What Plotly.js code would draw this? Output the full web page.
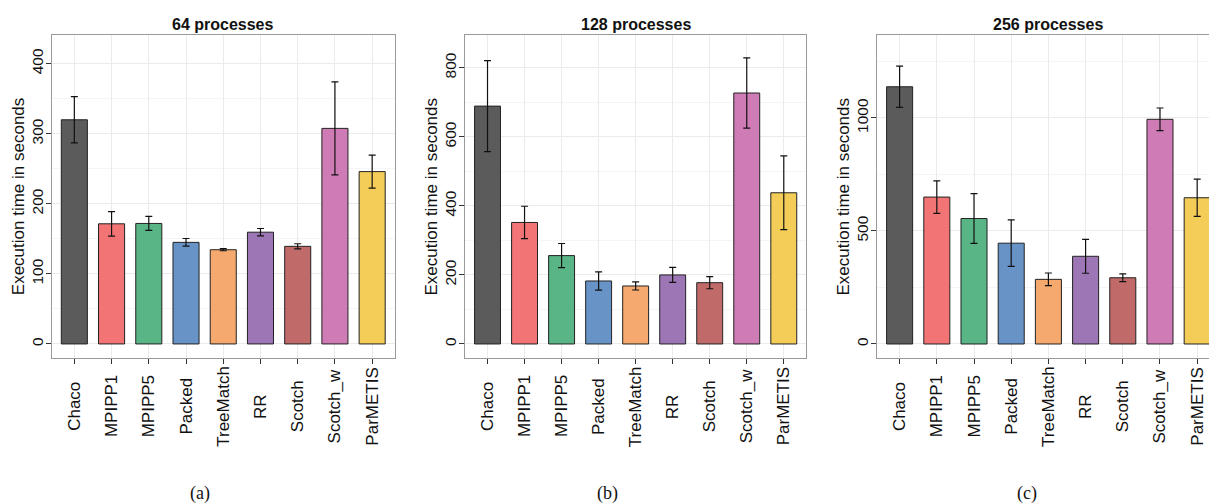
<!DOCTYPE html>
<html>
<head>
<meta charset="utf-8">
<script src="https://cdn.plot.ly/plotly-3.0.1.min.js"></script>
<style>
html, body { margin: 0; padding: 0; overflow: hidden; background: #fff; }
#chart { width: 1230px; height: 504px; }
</style>
</head>
<body>
<div id="chart"></div>
<script>
const categories = ["Chaco", "MPIPP1", "MPIPP5", "Packed", "TreeMatch", "RR", "Scotch", "Scotch_w", "ParMETIS"];
const barColors = ["#5A5B5A", "#F27475", "#59B486", "#6793C7", "#F5A96E", "#9D76B5", "#C06A6A", "#CF7BB6", "#F4CD59"];

const values64 = [320, 171.5, 172, 145, 134.5, 159.5, 139.3, 307.7, 246];
const errors64 = [33, 17.5, 10, 5.5, 1.5, 5.3, 3.7, 66.3, 23.5];

const values128 = [689, 352, 256, 182.5, 168, 200, 177.5, 727, 438];
const errors128 = [132, 47, 35, 26.5, 11.6, 21.7, 17.5, 102, 107];

const values256 = [1138, 650, 555, 446, 286, 388, 293, 994, 647];
const errors256 = [91, 72, 110, 103, 28, 75, 17, 50, 82];

const panelTitles = ["64 processes", "128 processes", "256 processes"];
const captions = ["(a)", "(b)", "(c)"];
const yAxisTitle = "Execution time in seconds";
const yTickVals = [[0, 100, 200, 300, 400], [0, 200, 400, 600, 800], [0, 500, 1000]];
const yMinor = [50, 100, 250];
const yRanges = [[-20.5, 441], [-41.5, 895], [-63.3, 1367]];

const W = 1230, H = 504;
const xPix = [[52, 394.5], [465.3, 806], [877.3, 1219.5]];
const yDom = [(H - 358.3) / H, (H - 35) / H];
const FONT = "Liberation Sans, Arial, sans-serif";

const series = [[values64, errors64], [values128, errors128], [values256, errors256]];

const traces = series.map((s, i) => ({
  type: "bar",
  x: categories,
  y: s[0],
  xaxis: i === 0 ? "x" : "x" + (i + 1),
  yaxis: i === 0 ? "y" : "y" + (i + 1),
  width: 0.7,
  marker: { color: barColors, line: { color: "#222", width: 1 } },
  error_y: { type: "data", array: s[1], visible: true, color: "#111", thickness: 1.2, width: 3.5 },
  showlegend: false,
  hoverinfo: "x+y"
}));

const layout = {
  width: W, height: H,
  margin: { l: 0, r: 0, t: 0, b: 0 },
  paper_bgcolor: "#fff",
  plot_bgcolor: "#fff",
  font: { family: FONT, color: "#111" },
  showlegend: false,
  annotations: []
};

for (let i = 0; i < 3; i++) {
  const sx = i === 0 ? "" : String(i + 1);
  layout["xaxis" + sx] = {
    domain: [xPix[i][0] / W, xPix[i][1] / W],
    anchor: "y" + sx,
    type: "category",
    range: [-0.6, 8.6],
    showline: true, mirror: true, linecolor: "#9a9a9a", linewidth: 1,
    showgrid: true, gridcolor: "#EBEBEB", gridwidth: 1,
    ticks: "outside", ticklen: 5, tickcolor: "#333", tickwidth: 1,
    showticklabels: false,
    zeroline: false,
    fixedrange: true
  };
  layout["yaxis" + sx] = {
    domain: yDom,
    anchor: "x" + sx,
    range: yRanges[i],
    tickvals: yTickVals[i],
    ticktext: yTickVals[i].map(String),
    showline: true, mirror: true, linecolor: "#9a9a9a", linewidth: 1,
    showgrid: true, gridcolor: "#EBEBEB", gridwidth: 1,
    minor: { dtick: yMinor[i], tick0: yMinor[i], showgrid: true, gridcolor: "#F5F5F5", gridwidth: 1, ticks: "" },
    ticks: "outside", ticklen: 5, tickcolor: "#333", tickwidth: 1,
    tickangle: -90,
    ticklabelstandoff: -3,
    tickfont: { size: 15.5, color: "#111", family: FONT },
    zeroline: false,
    fixedrange: true
  };
  const cx = (xPix[i][0] + xPix[i][1]) / 2 / W;
  layout.annotations.push({
    text: panelTitles[i], xref: "paper", yref: "paper",
    x: cx, y: (H - 24) / H, xanchor: "center", yanchor: "middle",
    showarrow: false, font: { size: 16, family: FONT, weight: "bold", color: "#111" }
  });
  layout.annotations.push({
    text: yAxisTitle, xref: "paper", yref: "paper", textangle: -90,
    x: (xPix[i][0] - 33.5) / W, y: (H - 196.7) / H, xanchor: "center", yanchor: "middle",
    showarrow: false, font: { size: 17, family: FONT, color: "#111" }
  });
  categories.forEach((c) => {
    layout.annotations.push({
      text: c, xref: "x" + sx, yref: "paper", textangle: -90,
      x: c, y: (H - 406.5) / H, xanchor: "center", yanchor: "middle",
      showarrow: false, font: { size: 17, family: FONT, color: "#111" }
    });
  });
}
const capX = [200, 607, 1027];
for (let i = 0; i < 3; i++) {
  layout.annotations.push({
    text: captions[i], xref: "paper", yref: "paper",
    x: capX[i] / W, y: (H - 493) / H, xanchor: "center", yanchor: "middle",
    showarrow: false, font: { size: 18, family: "Liberation Serif, DejaVu Serif, serif", color: "#111" }
  });
}

Plotly.newPlot("chart", traces, layout, { displayModeBar: false, staticPlot: true });
</script>
</body>
</html>
